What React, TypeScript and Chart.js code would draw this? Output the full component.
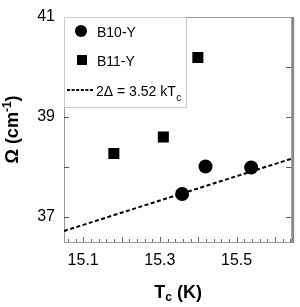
import React, { useEffect, useRef } from "react";
import { Chart, registerables } from "chart.js";

Chart.register(...registerables);

// Data
const b10Tc = [15.358, 15.419, 15.538];
const b10Omega = [37.46, 38.01, 37.99];
const b11Tc = [15.18, 15.309, 15.399];
const b11Omega = [38.27, 38.6, 40.19];
const fitTc = [15.05, 15.645];
const fitOmega = [36.72, 38.17];
const xTickValues = [15.1, 15.3, 15.5];
const yTickValues = [37, 39, 41];
const xMin = 15.05;
const xMax = 15.645;
const yMin = 36.5;
const yMax = 41;
const legendLabels = ["B10-Y", "B11-Y", "2Δ = 3.52 kT"];

const FONT = "'Liberation Sans', Arial, Helvetica, sans-serif";

const framePlugin = {
  id: "framePlugin",
  beforeDatasetsDraw(chart: any) {
    const { ctx, chartArea, scales } = chart;
    const { left, right, top, bottom } = chartArea;
    const xs = scales.x;
    const ys = scales.y;
    ctx.save();
    // frame
    ctx.lineWidth = 1;
    ctx.strokeStyle = "#999";
    ctx.beginPath();
    ctx.moveTo(left, top + 0.5);
    ctx.lineTo(right, top + 0.5);
    ctx.moveTo(left + 0.5, top);
    ctx.lineTo(left + 0.5, bottom);
    ctx.moveTo(left, bottom + 0.5);
    ctx.lineTo(right, bottom + 0.5);
    ctx.stroke();
    ctx.strokeStyle = "#8a8a8a";
    ctx.lineWidth = 3;
    ctx.beginPath();
    ctx.moveTo(right + 0.5, top);
    ctx.lineTo(right + 0.5, bottom + 1);
    ctx.stroke();

    // y ticks (inward), every 1
    ctx.lineWidth = 1;
    ctx.strokeStyle = "#555";
    ctx.beginPath();
    for (let v = Math.ceil(yMin); v < yMax; v += 1) {
      const py = Math.round(ys.getPixelForValue(v)) + 0.5;
      ctx.moveTo(left, py);
      ctx.lineTo(left + 5, py);
      ctx.moveTo(right - 1, py);
      ctx.lineTo(right - 6, py);
    }
    ctx.stroke();

    // x ticks (inward): minor every 0.02, major every 0.1
    ctx.strokeStyle = "#666";
    ctx.beginPath();
    for (let i = Math.ceil(xMin / 0.02 - 1e-6); i * 0.02 < xMax; i++) {
      const v = i * 0.02;
      const px = Math.round(xs.getPixelForValue(v)) + 0.5;
      const major = i % 5 === 0;
      ctx.moveTo(px, bottom);
      ctx.lineTo(px, bottom - (major ? 5 : 3));
    }
    ctx.stroke();
    ctx.restore();
  },
  afterDraw(chart: any) {
    const { ctx, chartArea } = chart;
    const { left, right, top, bottom } = chartArea;
    ctx.save();
    // Legend box
    const lx = left;
    const ly = top;
    const lw = 122;
    const lh = 90;
    ctx.fillStyle = "#fff";
    ctx.fillRect(lx + 1, ly + 1, lw - 1, lh - 1);
    ctx.strokeStyle = "#c8c8c8";
    ctx.lineWidth = 1;
    ctx.strokeRect(lx + 0.5, ly + 0.5, lw, lh);

    ctx.fillStyle = "#000";
    // circle marker
    ctx.beginPath();
    ctx.arc(lx + 17, ly + 14, 6, 0, Math.PI * 2);
    ctx.fill();
    // square marker
    ctx.fillRect(lx + 13, ly + 38, 10, 10);
    // dashed line marker
    ctx.strokeStyle = "#000";
    ctx.lineWidth = 2;
    ctx.setLineDash([3, 1.6]);
    ctx.beginPath();
    ctx.moveTo(lx + 3, ly + 73);
    ctx.lineTo(lx + 30, ly + 73);
    ctx.stroke();
    ctx.setLineDash([]);

    ctx.font = `14px ${FONT}`;
    ctx.textBaseline = "alphabetic";
    ctx.textAlign = "left";
    ctx.fillText(legendLabels[0], lx + 33, ly + 20);
    ctx.fillText(legendLabels[1], lx + 33, ly + 48.5);
    ctx.fillText(legendLabels[2], lx + 32, ly + 79);
    const w2 = ctx.measureText(legendLabels[2]).width;
    ctx.font = `10px ${FONT}`;
    ctx.fillText("c", lx + 32 + w2 + 0.5, ly + 84);

    // X axis title: T_c (K)
    const cx = (left + right) / 2;
    ctx.font = `bold 18px ${FONT}`;
    const tW = ctx.measureText("T").width;
    ctx.font = `bold 12px ${FONT}`;
    const cW = ctx.measureText("c").width;
    ctx.font = `bold 18px ${FONT}`;
    const rest = " (K)";
    const rW = ctx.measureText(rest).width;
    const total = tW + cW + rW;
    let x0 = cx - total / 2;
    const by = 298;
    ctx.fillText("T", x0, by);
    ctx.font = `bold 12px ${FONT}`;
    ctx.fillText("c", x0 + tW, by + 3);
    ctx.font = `bold 18px ${FONT}`;
    ctx.fillText(rest, x0 + tW + cW, by);

    // Y axis title: Ω (cm^-1)
    ctx.translate(18, (top + bottom) / 2);
    ctx.rotate(-Math.PI / 2);
    ctx.font = `bold 18px ${FONT}`;
    const p1 = "Ω (cm";
    const p1W = ctx.measureText(p1).width;
    ctx.font = `bold 12px ${FONT}`;
    const supW = ctx.measureText("-1").width;
    ctx.font = `bold 18px ${FONT}`;
    const p3W = ctx.measureText(")").width;
    const tot2 = p1W + supW + p3W;
    const sx = -tot2 / 2;
    ctx.fillText(p1, sx, 0);
    ctx.font = `bold 12px ${FONT}`;
    ctx.fillText("-1", sx + p1W, -7);
    ctx.font = `bold 18px ${FONT}`;
    ctx.fillText(")", sx + p1W + supW, 0);
    ctx.restore();
  },
};

export default function App() {
  const ref = useRef<HTMLCanvasElement | null>(null);
  useEffect(() => {
    document.body.style.margin = "0";
    const canvas = ref.current;
    if (!canvas) return;
    const chart = new Chart(canvas, {
      type: "scatter",
      data: {
        datasets: [
          {
            label: "fit",
            type: "line",
            data: fitTc.map((x, i) => ({ x, y: fitOmega[i] })),
            borderColor: "#000",
            borderWidth: 2,
            borderDash: [4, 2.5],
            pointRadius: 0,
            fill: false,
          },
          {
            label: "B10-Y",
            data: b10Tc.map((x, i) => ({ x, y: b10Omega[i] })),
            pointStyle: "circle",
            pointRadius: 7,
            backgroundColor: "#000",
            borderWidth: 0,
          },
          {
            label: "B11-Y",
            data: b11Tc.map((x, i) => ({ x, y: b11Omega[i] })),
            pointStyle: "rect",
            pointRadius: 7.8,
            backgroundColor: "#000",
            borderWidth: 0,
          },
        ],
      } as any,
      options: {
        animation: false,
        responsive: false,
        devicePixelRatio: 1,
        layout: { padding: { top: 8, right: 3, left: 0, bottom: 0 } },
        plugins: {
          legend: { display: false },
          tooltip: { enabled: false },
        },
        scales: {
          x: {
            type: "linear",
            min: xMin,
            max: xMax,
            grid: { display: false, drawTicks: false },
            border: { display: false },
            afterBuildTicks: (s: any) => {
              s.ticks = xTickValues.map((v) => ({ value: v }));
            },
            afterFit: (s: any) => {
              s.height = 65;
            },
            ticks: {
              color: "#000",
              padding: 11,
              maxRotation: 0,
              font: { family: FONT, size: 16, lineHeight: 1 },
              callback: (v: any) => Number(v).toFixed(1),
            },
          },
          y: {
            type: "linear",
            min: yMin,
            max: yMax,
            grid: { display: false, drawTicks: false },
            border: { display: false },
            afterBuildTicks: (s: any) => {
              s.ticks = yTickValues.map((v) => ({ value: v }));
            },
            afterFit: (s: any) => {
              s.width = 64;
            },
            ticks: {
              color: "#000",
              padding: 9,
              font: { family: FONT, size: 16, lineHeight: 1 },
              callback: (v: any) => String(v),
            },
          },
        },
      } as any,
      plugins: [framePlugin],
    });
    return () => chart.destroy();
  }, []);
  return (
    <div style={{ width: 300, height: 307 }}>
      <canvas ref={ref} width={300} height={307} style={{ display: "block" }} />
    </div>
  );
}
